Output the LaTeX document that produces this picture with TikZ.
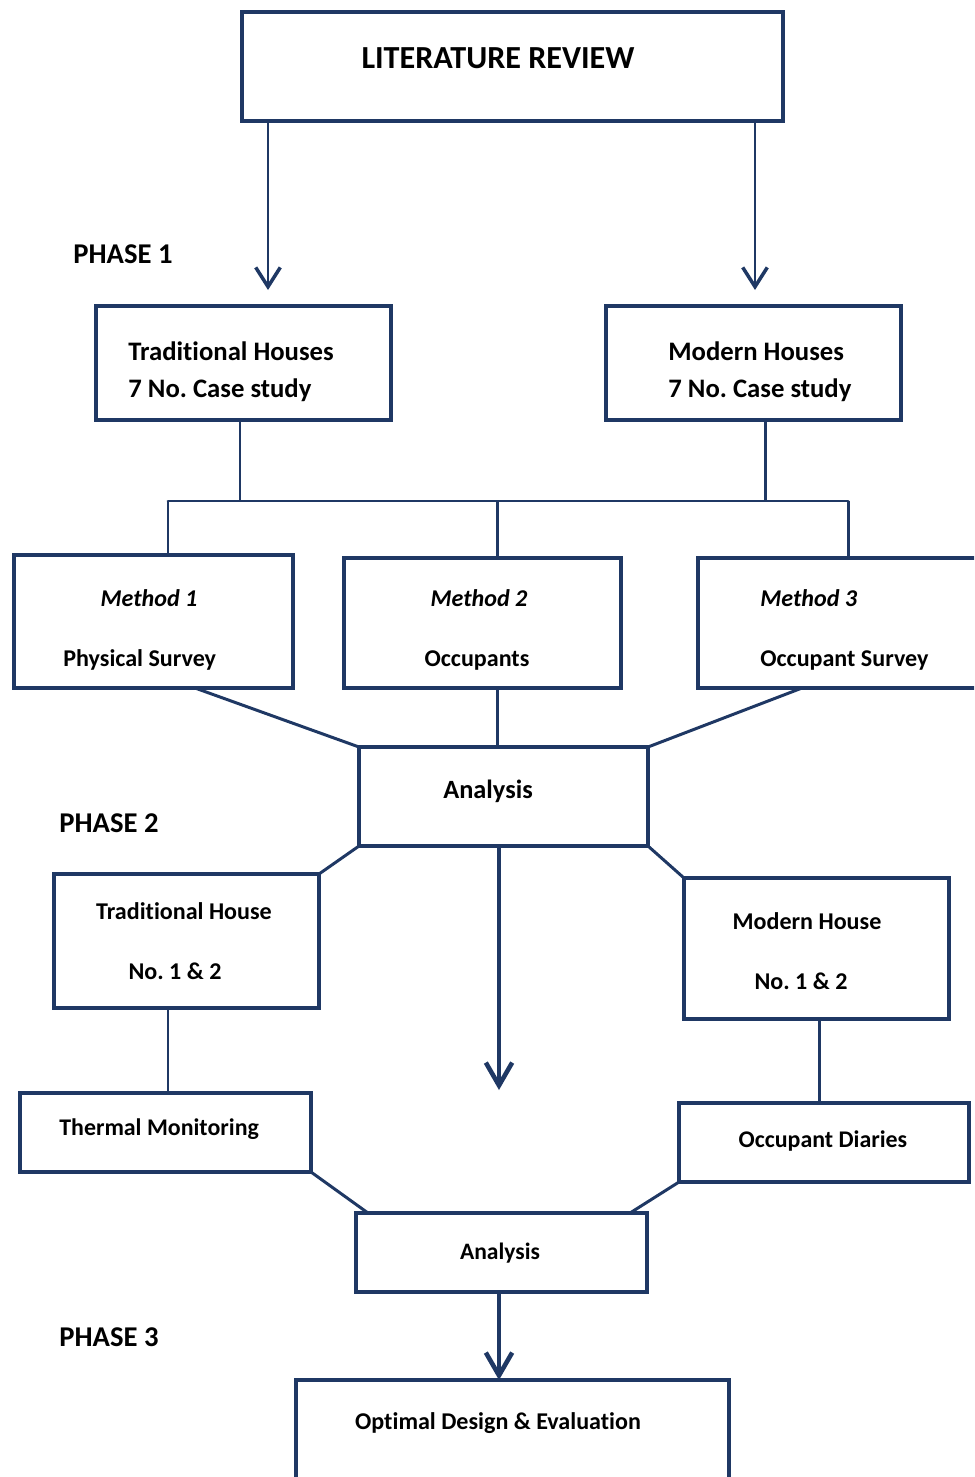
\documentclass[tikz,border=0pt]{standalone}
\usepackage{fontspec}
\setmainfont{Carlito}[Ligatures=NoCommon]
\usetikzlibrary{arrows.meta}
\definecolor{navy}{RGB}{31,56,100}
\frenchspacing
\newcommand{\fsz}[1]{\fontsize{#1}{#1}\selectfont}
% box from corner (x1,y1) to corner (x2,y2), pixel units
\newcommand{\flowbox}[5]{\node[box, minimum width={(#4-#2)*0.02cm}, minimum height={(#5-#3)*0.02cm}] (#1) at ({(#2+#4)/2},{(#3+#5)/2}) {};}
\tikzset{
  box/.style={draw=navy, line width=2.3pt, fill=white, inner sep=0pt, outer sep=0pt},
  link/.style={draw=navy, line width=1.7pt},
  thin arrow/.style={draw=navy, line width=1.6pt, -{Straight Barb[length=11pt, width=14pt, line width=2pt]}},
  big arrow/.style={draw=navy, line width=2.6pt, -{Straight Barb[length=13pt, width=15pt, line width=2.6pt]}},
  txt/.style={font=\bfseries, inner sep=0pt}
}
\begin{document}
\begin{tikzpicture}[x=0.02cm, y=-0.02cm]
  \useasboundingbox (0,0) rectangle (974,1477);
  \clip (0,0) rectangle (974,1477);

  % boxes
  \flowbox{lit}{242}{12}{783}{121}
  \flowbox{trad}{96}{306}{391}{420}
  \flowbox{mod}{606}{306}{901}{420}
  \flowbox{mA}{14}{555}{293}{688}
  \flowbox{mB}{344}{558}{621}{688}
  \flowbox{mC}{698}{558}{1000}{688}
  \flowbox{anA}{359}{747}{648}{846}
  \flowbox{tHouse}{54}{874}{319}{1008}
  \flowbox{mHouse}{684}{878}{949}{1019}
  \flowbox{therm}{20}{1093}{311}{1172}
  \flowbox{diary}{679}{1103}{969}{1182}
  \flowbox{anB}{356}{1213}{647}{1292}
  \flowbox{opt}{296}{1380}{729}{1520}

  \coordinate (tipL) at (268,290);
  \coordinate (tipR) at (755,290);
  \coordinate (barL) at (168,501);
  \coordinate (barR) at (848,501);
  \coordinate (tipM) at (499,1090);

  % connectors
  \draw[thin arrow] (268,0 |- lit.south) -- (tipL);
  \draw[thin arrow] (755,0 |- lit.south) -- (tipR);

  \draw[link] (240,0 |- trad.south) -- (240,0 |- barL);
  \draw[link] (765,0 |- mod.south) -- (765,0 |- barR);
  \draw[link, line cap=round] (barL) -- (barR);
  \draw[link] (barL) -- (168,0 |- mA.north);
  \draw[link] (497,0 |- barL) -- (497,0 |- mB.north);
  \draw[link] (barR) -- (848,0 |- mC.north);

  \draw[link] (195,0 |- mA.south) -- (anA.north west);
  \draw[link] (497,0 |- mB.south) -- (497,0 |- anA.north);
  \draw[link] (802,0 |- mC.south) -- (anA.north east);

  \draw[link] (anA.south west) -- (tHouse.north east);
  \draw[link] (anA.south east) -- (mHouse.north west);
  \draw[big arrow] (499,0 |- anA.south) -- (tipM);

  \draw[link] (168,0 |- tHouse.south) -- (168,0 |- therm.north);
  \draw[link] (819,0 |- mHouse.south) -- (819,0 |- diary.north);

  \draw[link] (therm.south east) -- (368,0 |- anB.north);
  \draw[link] (diary.south west) -- (630,0 |- anB.north);
  \draw[big arrow] (499,0 |- anB.south) -- (499,0 |- opt.north);

  % texts
  \node[txt, anchor=base, font=\bfseries\fsz{18.3}] (tLit) at (498,69) {LITERATURE REVIEW};
  \node[txt, anchor=base west, font=\bfseries\fsz{16.3}] (tP1) at (73,263) {PHASE 1};
  \node[txt, anchor=base west, font=\bfseries\fsz{15.2}] (tTradA) at (128,360) {Traditional Houses};
  \node[txt, anchor=base west, font=\bfseries\fsz{15.2}] (tTradB) at (128,397) {7 No. Case study};
  \node[txt, anchor=base west, font=\bfseries\fsz{15.2}] (tModA) at (668,360) {Modern Houses};
  \node[txt, anchor=base west, font=\bfseries\fsz{15.2}] (tModB) at (668,397) {7 No. Case study};

  \node[txt, anchor=base, font=\bfseries\itshape\fsz{13.7}] (tMA) at (149,606) {Method 1};
  \node[txt, anchor=base west, font=\bfseries\fsz{13.7}] (tMAb) at (63,666) {Physical Survey};
  \node[txt, anchor=base, font=\bfseries\itshape\fsz{13.7}] (tMB) at (479,606) {Method 2};
  \node[txt, anchor=base, font=\bfseries\fsz{13.7}] (tMBb) at (477,666) {Occupants};
  \node[txt, anchor=base west, font=\bfseries\itshape\fsz{13.7}] (tMC) at (760,606) {Method 3};
  \node[txt, anchor=base west, font=\bfseries\fsz{13.7}] (tMCb) at (760,666) {Occupant Survey};

  \node[txt, anchor=base, font=\bfseries\fsz{15}] (tAnA) at (488,798) {Analysis};
  \node[txt, anchor=base west, font=\bfseries\fsz{16.3}] (tP2) at (59,832) {PHASE 2};

  \node[txt, anchor=base, font=\bfseries\fsz{13.7}] (tTH) at (184,919) {Traditional House};
  \node[txt, anchor=base, font=\bfseries\fsz{13.7}] (tTHb) at (175,979) {No. 1 \& 2};
  \node[txt, anchor=base, font=\bfseries\fsz{13.7}] (tMH) at (807,929) {Modern House};
  \node[txt, anchor=base, font=\bfseries\fsz{13.7}] (tMHb) at (801,989) {No. 1 \& 2};

  \node[txt, anchor=base west, font=\bfseries\fsz{13.6}] (tTherm) at (59,1135) {Thermal Monitoring};
  \node[txt, anchor=base, font=\bfseries\fsz{13.6}] (tDiary) at (823,1147) {Occupant Diaries};

  \node[txt, anchor=base, font=\bfseries\fsz{13.4}] (tAnB) at (500,1259) {Analysis};
  \node[txt, anchor=base west, font=\bfseries\fsz{16.3}] (tP3) at (59,1346) {PHASE 3};
  \node[txt, anchor=base, font=\bfseries\fsz{13.7}] (tOpt) at (498,1429) {Optimal Design \& Evaluation};
\end{tikzpicture}
\end{document}
